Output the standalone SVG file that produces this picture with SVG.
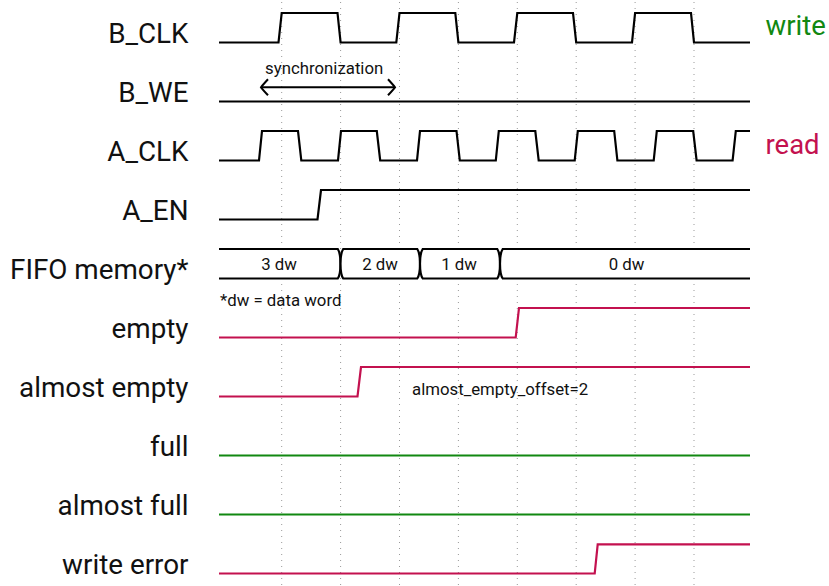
<svg xmlns="http://www.w3.org/2000/svg" width="829" height="586" viewBox="0 0 829 586">
<style>
.lbl{font-family:Roboto,"Liberation Sans",sans-serif;font-size:27.8px;fill:#111;text-anchor:end}
.sm{font-family:Roboto,"Liberation Sans",sans-serif;font-size:16.8px;fill:#111}
.smc{font-family:Roboto,"Liberation Sans",sans-serif;font-size:16.8px;fill:#111;text-anchor:middle}
.grid{stroke:#999;stroke-width:1;stroke-dasharray:1 5;fill:none}
.w{fill:none;stroke:#000;stroke-width:2.2;stroke-linejoin:miter}
.wp{fill:none;stroke:#c3114f;stroke-width:2.2}
.wg{fill:none;stroke:#118811;stroke-width:2.2}
.bus{fill:#fff;stroke:#000;stroke-width:2.2}
</style>
<defs>
<marker id="arr" viewBox="-9 -10 11 20" refX="0" refY="0" markerWidth="11" markerHeight="20" markerUnits="userSpaceOnUse" orient="auto-start-reverse">
<path d="M-7,-8 Q-1.5,-2 0,0 Q-1.5,2 -7,8" fill="none" stroke="#000" stroke-width="2"/>
</marker>
</defs>
<rect width="829" height="586" fill="#fff"/>
<g id="grid">
<path class="grid" d="M281.7,2V586M340.6,2V586M399.5,2V586M458.4,2V586M517.3,2V586M576.2,2V586M635.1,2V586M694,2V586"/>
</g>
<g id="B_CLK">
<text class="lbl" x="188.5" y="43">B_CLK</text>
<path class="w" d="M219,42.5H278.5L281.7,13H337.5L340.6,42.5H396.3L399.5,13H455.3L458.4,42.5H514L517.3,13H573L576.2,42.5H632L635.1,13H691L694,42.5H750"/>
</g>
<g id="B_WE">
<text class="lbl" x="188.5" y="102">B_WE</text>
<path class="w" d="M219,101.5H750"/>
</g>
<g id="A_CLK">
<text class="lbl" x="188.5" y="161">A_CLK</text>
<path class="w" d="M219,160.5H259L262,131H298L301.3,160.5H338L341,131H376.8L380.2,160.5H417L420,131H456.5L459.8,160.5H495.8L498.8,131H535.3L538.7,160.5H574.7L577.8,131H614.2L617.4,160.5H653.7L656.8,131H693.2L696.6,160.5H732.6L735.8,131H750"/>
</g>
<g id="A_EN">
<text class="lbl" x="188.5" y="220">A_EN</text>
<path class="w" d="M219,219.5H317.5L321,190H750"/>
</g>
<g id="FIFO">
<text class="lbl" x="188.5" y="279">FIFO memory*</text>
<path class="bus" d="M219,249H337.8C339.5,251.5 340.5,258 340.5,263.75C340.5,269.5 339.5,276 337.8,278.5H219"/>
<path class="bus" d="M343.2,249H417.3C419,251.5 420,258 420,263.75C420,269.5 419,276 417.3,278.5H343.2C341.5,276 340.5,269.5 340.5,263.75C340.5,258 341.5,251.5 343.2,249Z"/>
<path class="bus" d="M422.7,249H497.3C499,251.5 500,258 500,263.75C500,269.5 499,276 497.3,278.5H422.7C421,276 420,269.5 420,263.75C420,258 421,251.5 422.7,249Z"/>
<path class="bus" d="M750,249H502.7C501,251.5 500,258 500,263.75C500,269.5 501,276 502.7,278.5H750"/>
<text class="smc" x="279" y="269.5">3 dw</text>
<text class="smc" x="380" y="269.5">2 dw</text>
<text class="smc" x="459" y="269.5">1 dw</text>
<text class="smc" x="626.5" y="269.5">0 dw</text>
<text class="sm" x="220" y="306">*dw = data word</text>
</g>
<g id="empty">
<text class="lbl" x="188.5" y="338">empty</text>
<path class="wp" d="M219,337.5H515.7L519,308H750"/>
</g>
<g id="almost_empty">
<text class="lbl" x="188.5" y="397">almost empty</text>
<path class="wp" d="M219,396.5H357.5L361,367H750"/>
<text class="sm" x="412" y="394.5">almost_empty_offset=2</text>
</g>
<g id="full">
<text class="lbl" x="188.5" y="456">full</text>
<path class="wg" d="M219,455.5H750"/>
</g>
<g id="almost_full">
<text class="lbl" x="188.5" y="515">almost full</text>
<path class="wg" d="M219,514.5H750"/>
</g>
<g id="write_error">
<text class="lbl" x="188.5" y="574">write error</text>
<path class="wp" d="M219,573.5H594.7L597.7,544.3H750"/>
</g>
<g id="side-labels">
<text x="765.5" y="34.5" style="font-family:Roboto,'Liberation Sans',sans-serif;font-size:27.5px;fill:#118811">write</text>
<text x="765.5" y="153.5" style="font-family:Roboto,'Liberation Sans',sans-serif;font-size:27.5px;fill:#c3114f">read</text>
</g>
<g id="connectors">
<path d="M261,87.3H395" fill="none" stroke="#000" stroke-width="2" marker-start="url(#arr)" marker-end="url(#arr)"/>
<text class="smc" x="324.2" y="74">synchronization</text>
</g>
</svg>
